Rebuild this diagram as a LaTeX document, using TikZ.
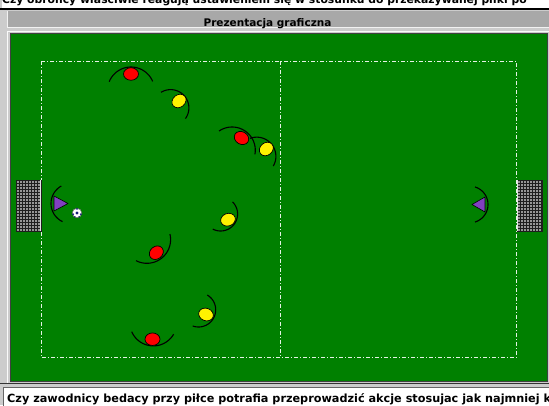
\documentclass[tikz,border=0pt]{standalone}
\usepackage{fontspec}
\setmainfont{DejaVu Sans}
\usetikzlibrary{shapes.geometric}
\definecolor{bgc}{RGB}{204,204,204}
\definecolor{hdr}{RGB}{168,168,168}
\definecolor{pitch}{RGB}{0,128,0}
\definecolor{purp}{RGB}{128,64,192}
\definecolor{netc}{RGB}{30,30,30}
\definecolor{netdot}{RGB}{150,150,150}
\definecolor{ballblue}{RGB}{20,30,120}
\newcommand\fovarc[5]{\draw[fov] plot[smooth, domain=#4:#5, samples=30, variable=\t] ({#1+#3*cos(\t)},{#2-#3*sin(\t)});}
\begin{document}
\begin{tikzpicture}[x=1pt,y=-1pt,
  player/.style={ellipse, draw=black, line width=0.7pt, minimum width=15pt, minimum height=12.5pt, inner sep=0pt},
  redp/.style={player, fill=red},
  yelp/.style={player, fill=yellow},
  fov/.style={draw=black, line width=1.1pt},
  keeper/.style={fill=purp, draw=black, line width=0.6pt, line join=round},
  pitchline/.style={draw=white!90!pitch, line width=0.9pt, dash pattern=on 4pt off 2pt on 1pt off 2pt},
  txt/.style={inner sep=0pt, text=black},
  goalbox/.style={fill=netc, draw=netc, line width=0.5pt},
  ball/.style={circle, fill=white, draw=black!60, line width=0.5pt, minimum size=9.5pt, inner sep=0pt}]
\useasboundingbox (0,0) rectangle (549,405);
\clip (0,0) rectangle (549,405);
% chrome
\fill[bgc] (0,0) rectangle (549,405);
\fill[white] (2,-5) rectangle (560,7.5);
\node[txt, font=\fontsize{10.8}{12}\selectfont\bfseries, anchor=base west] (toptext) at (2,3.6) {Czy obrońcy właściwie reagują ustawieniem się w stosunku do przekazywanej piłki po};
\fill[black] (0,8) rectangle (560,10);
\fill[hdr] (7,11) rectangle (560,27.5);
\draw[white!85!hdr, line width=0.8pt] (7.4,11) -- (7.4,27.5) -- (560,27.5);
\node[txt, font=\fontsize{10.5}{12}\selectfont\bfseries, anchor=base] (header) at (267.5,26.3) {Prezentacja graficzna};
\draw[white!90!bgc, line width=1pt] (7.5,383) -- (7.5,31.5) -- (560,31.5);
\fill[pitch] (10.5,33.5) rectangle (547.5,381.5);
\draw[black!75, line width=1pt] (10.5,33.5) rectangle (547.5,381.5);
\draw[black!80, line width=1.3pt] (0,383.6) -- (560,383.6);
\filldraw[fill=white, draw=black!60, line width=0.8pt] (3,387) rectangle (560,415);
\node[txt, font=\fontsize{11.25}{12}\selectfont\bfseries, anchor=base west] (bottext) at (7,402.5) {Czy zawodnicy bedacy przy piłce potrafia przeprowadzić akcje stosujac jak najmniej ko};
% pitch lines
\draw[pitchline] (41,61) rectangle (516.5,357);
\draw[pitchline] (280.5,61) -- (280.5,357);
% goals
\fill[goalbox] (16,180) rectangle (41,231);
\fill[goalbox] (517,180) rectangle (542,231);
\foreach \i in {0,...,7}{
  \foreach \j in {0,...,16}{
    \fill[netdot] ({17.4+3*\i},{181.2+3*\j}) rectangle +(1.6,1.6);
    \fill[netdot] ({518.4+3*\i},{181.2+3*\j}) rectangle +(1.6,1.6);
  }
}
\draw[white!80!gray, line width=1.2pt] (40.6,180) -- (40.6,231);
\draw[white!80!gray, line width=1.2pt] (517.4,180) -- (517.4,231);
% field-of-view arcs
\fovarc{131}{90.5}{23.5}{23}{158}
\fovarc{170.6}{107.9}{18.3}{-35.8}{121.6}
\fovarc{232.1}{150.2}{23.2}{-10.2}{124.3}
\fovarc{256.7}{156.35}{19.2}{-30.2}{110.4}
\fovarc{220.6}{214}{17}{-117.3}{45.5}
\fovarc{146.9}{239.6}{23.7}{-117.3}{13.6}
\fovarc{198.5}{309.8}{17.2}{-109.7}{59.3}
\fovarc{153.3}{322.4}{23.5}{-156.7}{-30.1}
\fovarc{71}{203.5}{20}{119}{245}
\fovarc{469.7}{204.5}{18.3}{-73}{73}
% goalkeepers
\draw[keeper] (54,196) -- (54,211) -- (68,203.5) -- cycle;
\draw[keeper] (485,197) -- (485,212) -- (472,204.5) -- cycle;
% players
\node[redp] (r1) at (131,74) {};
\node[yelp, rotate=40] (y1) at (179,101) {};
\node[redp, rotate=-30] (r2) at (241.5,138) {};
\node[yelp, rotate=40] (y2) at (266.3,149) {};
\node[yelp, rotate=20] (y3) at (228,219.7) {};
\node[redp, rotate=40] (r3) at (156.3,252.7) {};
\node[yelp, rotate=-20] (y4) at (206,314.5) {};
\node[redp] (r4) at (152.5,339.2) {};
% ball
\node[ball] (ballnode) at (77,213) {};
\fill[ballblue] (77,213) circle (1.6);
\fill[ballblue] (77,208.9) circle (1);
\fill[ballblue] (73.2,214.2) circle (1);
\fill[ballblue] (80.8,214.2) circle (1);
\fill[ballblue] (74.8,216.8) circle (0.8);
\fill[ballblue] (79.2,216.8) circle (0.8);
\end{tikzpicture}
\end{document}
